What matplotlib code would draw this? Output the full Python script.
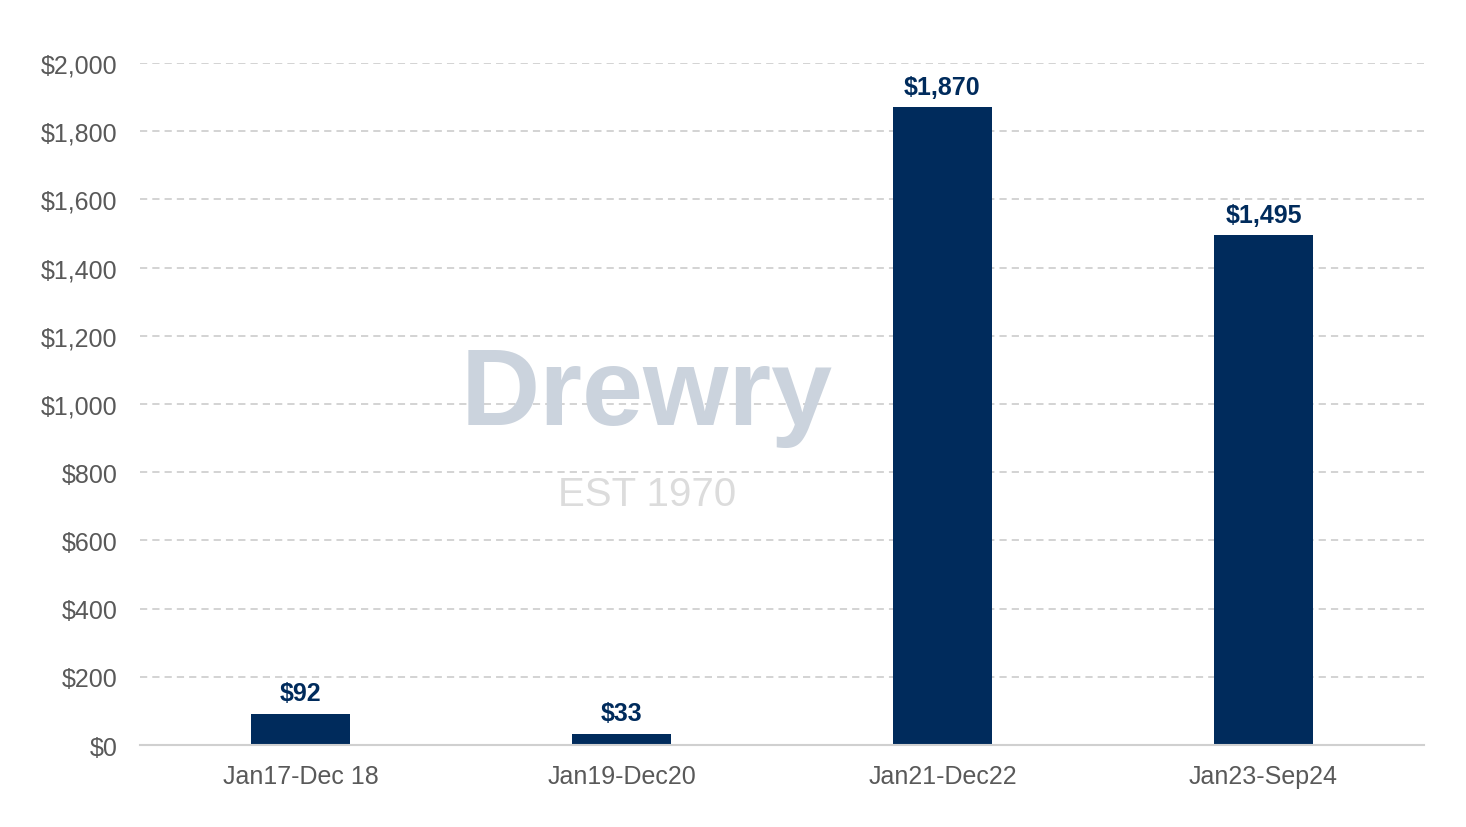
import matplotlib.pyplot as plt
from matplotlib.ticker import FuncFormatter

periods = ["Jan17-Dec 18", "Jan19-Dec20", "Jan21-Dec22", "Jan23-Sep24"]
values = [92, 33, 1870, 1495]
yticks = [0, 200, 400, 600, 800, 1000, 1200, 1400, 1600, 1800, 2000]

plt.rcParams["font.family"] = ["Liberation Sans", "DejaVu Sans"]

navy = "#002B5C"
grey_text = "#595959"
grid_col = "#D0D0D0"

fig = plt.figure(figsize=(14.66, 8.28), dpi=100)
ax = fig.add_axes([0.0955, 0.099, 0.8758, 0.8237])

x = range(len(periods))
bars = ax.bar(x, values, width=0.31, color=navy, zorder=3)

for rect, v in zip(bars, values):
    ax.annotate(f"${v:,}", (rect.get_x() + rect.get_width() / 2, v),
                xytext=(0, 6), textcoords="offset points",
                ha="center", va="bottom", fontsize=18, fontweight="bold",
                color=navy, zorder=4)

ax.set_xlim(-0.5, 3.5)
ax.set_ylim(0, 2000)
ax.set_yticks(yticks)
ax.yaxis.set_major_formatter(FuncFormatter(lambda v, p: f"${v:,.0f}"))
ax.set_xticks(list(x))
ax.set_xticklabels(periods)

ax.tick_params(axis="both", length=0, labelsize=18, labelcolor=grey_text)
ax.tick_params(axis="y", pad=16)
ax.tick_params(axis="x", pad=14)

ax.yaxis.grid(True, color=grid_col, linestyle=(0, (4, 2.8)), linewidth=1.3, zorder=0)
ax.set_axisbelow(True)
for side in ["top", "right", "left"]:
    ax.spines[side].set_visible(False)
ax.spines["bottom"].set_color(grid_col)
ax.spines["bottom"].set_linewidth(1.5)
ax.spines["bottom"].set_zorder(4)

# faint watermark
fig.text(0.4413, 0.4867, "Drewry", fontsize=79, fontweight="bold", color="#CBD3DD",
         ha="center", va="baseline", zorder=1)
fig.text(0.4413, 0.3889, "EST 1970", fontsize=29, color="#DCDCDC",
         ha="center", va="baseline", zorder=1)

fig.savefig("out.png", dpi=100)
